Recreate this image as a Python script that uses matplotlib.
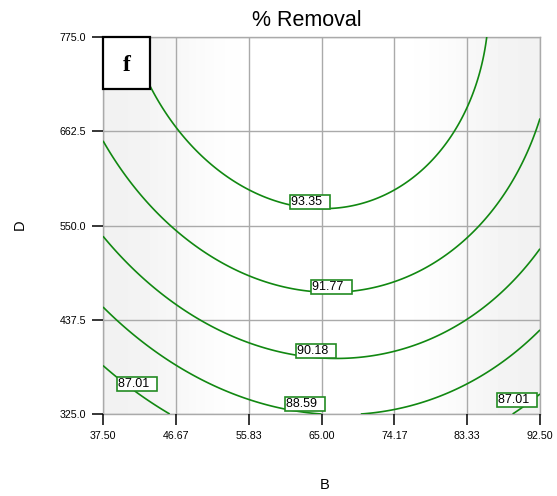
import numpy as np
import matplotlib.pyplot as plt
from matplotlib.patches import Rectangle

plt.rcParams['font.family'] = ['Liberation Sans', 'DejaVu Sans']

# factor ranges (actual units)
B_low, B_high = 37.5, 92.5
D_low, D_high = 325.0, 775.0

# quadratic model in coded units: b0, x, y, x^2, y^2, xy
coef = [93.07, 0.08, 3.24, -2.60, -1.24, -0.388]

levels = [87.01, 88.59, 90.18, 91.77, 93.35]

x_ticks = [37.50, 46.67, 55.83, 65.00, 74.17, 83.33, 92.50]
y_ticks = [325.0, 437.5, 550.0, 662.5, 775.0]

# where each contour value gets its tag (B, D, level)
label_B = [63.55, 66.28, 64.27, 62.88, 41.74, 89.57]
label_D = [577.5, 476.8, 400.4, 337.2, 360.6, 341.5]
label_val = [93.35, 91.77, 90.18, 88.59, 87.01, 87.01]

# soft grey shading across B (edge -> centre -> edge)
shade = [0.945, 0.965, 0.99, 1.0, 1.0, 1.0, 1.0, 0.995, 0.97, 0.945]


def removal(B, D):
    x = (B - (B_low + B_high) / 2) / ((B_high - B_low) / 2)
    y = (D - (D_low + D_high) / 2) / ((D_high - D_low) / 2)
    b0, b1, b2, b11, b22, b12 = coef
    return b0 + b1 * x + b2 * y + b11 * x ** 2 + b22 * y ** 2 + b12 * x * y


fig = plt.figure(figsize=(5.57, 4.96), dpi=100)
ax = fig.add_axes([103 / 557, 1 - 414 / 496, 437 / 557, 377 / 496])

ax.imshow(np.array([shade]), cmap='gray', vmin=0, vmax=1, aspect='auto',
          interpolation='bicubic', extent=[B_low, B_high, D_low, D_high],
          zorder=0)

Bg, Dg = np.meshgrid(np.linspace(B_low, B_high, 300), np.linspace(D_low, D_high, 300))
Z = removal(Bg, Dg)
ax.contour(Bg, Dg, Z, levels=levels, colors='#118811', linewidths=1.2, zorder=3)

for b, d, v in zip(label_B, label_D, label_val):
    ax.text(b, d, '%.2f  ' % v, fontsize=9, ha='center', va='center', zorder=5,
            bbox=dict(boxstyle='square,pad=0.08', fc='white', ec='#228B22', lw=1.2))

ax.set_xlim(B_low, B_high)
ax.set_ylim(D_low, D_high)
ax.set_xticks(x_ticks)
ax.set_xticklabels(['%.2f' % t for t in x_ticks])
ax.set_yticks(y_ticks)
ax.set_yticklabels(['%.1f' % t for t in y_ticks])
ax.tick_params(direction='out', length=8, width=1.1, color='black', labelsize=7.7, pad=4)
ax.grid(True, color='#aaaaaa', lw=1.0, zorder=1)
ax.set_axisbelow(False)
for s in ax.spines.values():
    s.set_color('#aaaaaa')
    s.set_linewidth(1.0)

ax.set_title('% Removal', fontsize=15.5, x=0.467, pad=8)
fig.text(325 / 557, 1 - 485 / 496, 'B', fontsize=10.5, ha='center', va='center')
fig.text(20 / 557, 1 - 225 / 496, 'D', fontsize=10.5, ha='center', va='center', rotation=90)

# panel tag
ax.add_patch(Rectangle((0.0, 0.862), 0.108, 0.138, transform=ax.transAxes,
                       fill=True, fc='white', ec='black', lw=1.6, zorder=6, clip_on=False))
ax.text(0.055, 0.925, 'f', transform=ax.transAxes, fontsize=17, fontweight='bold',
        family=['Liberation Serif', 'DejaVu Serif'], ha='center', va='center', zorder=7)

fig.savefig('out.png', dpi=100)
